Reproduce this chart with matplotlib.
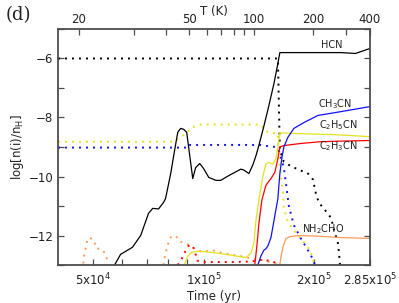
import numpy as np
import matplotlib
matplotlib.use("Agg")
import matplotlib.pyplot as plt

plt.rcParams['font.family'] = ['DejaVu Sans']
plt.rcParams['mathtext.default'] = 'regular'

# ---------------- data (time in yr, log abundance) ----------------
hcn_t = [5.71e4, 5.93e4, 6.39e4, 6.73e4, 7.07e4, 7.26e4, 7.53e4, 7.77e4, 7.87e4, 8.13e4,
         8.33e4, 8.5e4, 8.66e4, 8.82e4, 8.99e4, 9.1e4, 9.34e4, 9.51e4, 9.76e4, 1.0e5,
         1.033e5, 1.08e5, 1.114e5, 1.164e5, 1.264e5, 1.288e5, 1.33e5, 1.364e5, 1.39e5,
         1.416e5, 1.461e5, 1.508e5, 1.557e5, 1.596e5, 1.616e5, 2.0e5, 2.376e5, 2.6e5, 2.85e5]
hcn_y = [-13.0, -12.64, -12.4, -12.0, -11.25, -11.08, -11.1, -10.88, -10.75, -9.9,
         -9.12, -8.5, -8.37, -8.4, -8.5, -9.0, -10.07, -9.7, -9.56, -9.73,
         -10.03, -10.13, -10.13, -9.99, -9.75, -9.78, -9.9, -9.6, -9.3,
         -8.95, -8.3, -7.6, -6.85, -6.17, -5.8, -5.8, -5.8, -5.83, -5.66]

hcn_ice_t = [4.0e4, 1.596e5, 1.616e5, 1.657e5, 1.732e5, 1.845e5, 1.929e5, 1.99e5, 2.029e5,
             2.068e5, 2.12e5, 2.23e5, 2.272e5, 2.33e5, 2.345e5, 2.36e5]
hcn_ice_y = [-6.0, -6.0, -9.1, -9.5, -9.65, -9.8, -9.9, -10.1, -10.6,
             -10.9, -11.05, -11.4, -11.8, -12.27, -12.6, -13.0]

c2h5cn_t = [8.85e4, 9.05e4, 9.3e4, 9.64e4, 1.027e5, 1.093e5, 1.209e5, 1.304e5, 1.347e5, 1.372e5,
            1.39e5, 1.416e5, 1.452e5, 1.48e5, 1.508e5, 1.547e5, 1.576e5, 1.596e5, 1.616e5,
            1.845e5, 2.272e5, 2.85e5]
c2h5cn_y = [-13.0, -12.7, -12.56, -12.54, -12.56, -12.6, -12.68, -12.75, -12.6, -12.27,
            -11.5, -10.8, -10.0, -9.58, -9.52, -9.58, -9.4, -9.0, -8.52,
            -8.55, -8.58, -8.65]

c2h3cn_t = [1.38e5, 1.40e5, 1.416e5, 1.443e5, 1.48e5, 1.528e5, 1.566e5, 1.596e5, 1.616e5,
            1.657e5, 1.845e5, 2.093e5, 2.376e5, 2.85e5]
c2h3cn_y = [-13.0, -12.3, -11.6, -10.8, -10.3, -10.07, -9.86, -9.4, -9.0,
            -8.95, -8.88, -8.82, -8.8, -8.78]

ch3cn_t = [1.407e5, 1.434e5, 1.461e5, 1.48e5, 1.499e5, 1.528e5, 1.557e5, 1.596e5, 1.616e5,
           1.637e5, 1.657e5, 1.70e5, 1.765e5, 1.881e5, 2.054e5, 2.376e5, 2.645e5, 2.85e5]
ch3cn_y = [-13.0, -12.7, -12.5, -12.45, -12.35, -12.07, -11.5, -10.75, -9.9,
           -9.36, -9.0, -8.67, -8.37, -8.17, -7.93, -7.8, -7.7, -7.63]

nh2cho_t = [1.616e5, 1.627e5, 1.647e5, 1.678e5, 1.732e5, 1.845e5, 2.1e5, 2.376e5, 2.85e5]
nh2cho_y = [-13.0, -12.73, -12.4, -12.1, -12.03, -12.0, -12.03, -12.07, -12.1]

c2h5cn_ice_t = [4.0e4, 8.23e4, 8.39e4, 8.55e4, 8.94e4, 9.34e4, 9.82e4, 1.434e5, 1.48e5, 1.547e5,
                1.596e5, 1.606e5, 1.627e5, 1.647e5, 1.657e5, 1.70e5, 1.765e5, 1.845e5,
                1.929e5, 1.99e5, 2.003e5]
c2h5cn_ice_y = [-8.82, -8.82, -8.78, -8.7, -8.55, -8.33, -8.24, -8.24, -8.47, -8.52,
                -8.55, -9.36, -10.03, -10.47, -11.08, -11.55, -11.83, -12.1,
                -12.4, -12.75, -13.0]

ch3cn_ice_t = [4.0e4, 9.05e4, 9.1e4, 1.434e5, 1.499e5, 1.576e5, 1.606e5, 1.657e5, 1.678e5,
               1.71e5, 1.765e5, 1.845e5, 1.929e5, 1.99e5, 2.016e5]
ch3cn_ice_y = [-9.02, -9.02, -8.93, -8.93, -8.97, -9.0, -9.12, -9.7, -10.2,
               -11.0, -11.65, -12.1, -12.5, -12.8, -13.0]

nh2cho_ice1_t = [4.69e4, 4.72e4, 4.78e4, 4.81e4, 4.87e4, 4.97e4, 5.03e4, 5.09e4, 5.26e4, 5.39e4, 5.49e4]
nh2cho_ice1_y = [-12.95, -12.6, -12.35, -12.12, -12.08, -12.12, -12.2, -12.44, -12.46, -12.62, -12.95]

nh2cho_ice2_t = [7.77e4, 7.87e4, 7.97e4, 8.07e4, 8.23e4, 8.44e4, 8.6e4, 8.82e4, 9.05e4, 9.28e4,
                 9.64e4, 9.95e4, 1.059e5, 1.114e5, 1.187e5, 1.264e5, 1.321e5, 1.364e5,
                 1.434e5, 1.499e5, 1.557e5, 1.606e5]
nh2cho_ice2_y = [-13.0, -12.6, -12.35, -12.1, -12.0, -12.05, -12.2, -12.25, -12.3, -12.4,
                 -12.5, -12.55, -12.5, -12.58, -12.65, -12.7, -12.75, -12.8,
                 -12.82, -12.88, -12.92, -13.0]

c2h3cn_ice_t = [8.5e4, 8.75e4, 8.94e4, 9.1e4, 9.3e4, 9.45e4, 9.6e4, 1.0e5, 1.2e5, 1.35e5,
                1.45e5, 1.55e5, 1.6e5]
c2h3cn_ice_y = [-13.0, -12.75, -12.5, -12.35, -12.32, -12.5, -12.85, -12.9, -12.9, -12.88,
                -12.82, -12.88, -13.0]

xtick_vals = [5e4, 1e5, 2e5, 2.85e5]
xtick_labels = ['5x10$^4$', '1x10$^5$', '2x10$^5$', '2.85x10$^5$']
xminor_vals = [6e4, 7e4, 8e4, 9e4]
T_major = [20, 50, 100, 200, 400]
T_minor = [30, 40, 60, 70, 80, 90, 300]

def T_to_t(T):
    T = np.asarray(T, dtype=float)
    return 2.85e5 * np.sqrt((T - 10.0) / 390.0)

# ---------------- plot ----------------
fig = plt.figure(figsize=(3.99, 3.03), dpi=100)
ax = fig.add_axes([0.1454, 0.1254, 0.7819, 0.7789])

YEL = '#e2e21e'
ORG = '#ff9a55'
BLU = '#1010ff'
RED = '#ff0000'
dot = (0, (1, 2.6))
lw_s = 0.9
lw_d = 1.4

ax.plot(hcn_ice_t, hcn_ice_y, color='black', lw=lw_d, ls=dot)
ax.plot(c2h5cn_ice_t, c2h5cn_ice_y, color=YEL, lw=lw_d, ls=dot)
ax.plot(ch3cn_ice_t, ch3cn_ice_y, color=BLU, lw=lw_d, ls=dot)
ax.plot(nh2cho_ice1_t, nh2cho_ice1_y, color=ORG, lw=lw_d, ls=dot)
ax.plot(nh2cho_ice2_t, nh2cho_ice2_y, color=ORG, lw=lw_d, ls=dot)
ax.plot(c2h3cn_ice_t, c2h3cn_ice_y, color=RED, lw=lw_d, ls=dot)

ax.plot(hcn_t, hcn_y, color='black', lw=lw_s)
ax.plot(c2h5cn_t, c2h5cn_y, color=YEL, lw=lw_s)
ax.plot(c2h3cn_t, c2h3cn_y, color=RED, lw=lw_s)
ax.plot(ch3cn_t, ch3cn_y, color=BLU, lw=lw_s)
ax.plot(nh2cho_t, nh2cho_y, color=ORG, lw=lw_s)

ax.set_xscale('log')
ax.set_xlim(4.0e4, 2.85e5)
ax.set_ylim(-13, -5)

ax.set_xticks(xtick_vals)
ax.set_xticklabels(xtick_labels)
ax.set_xticks(xminor_vals, minor=True)
ax.set_xticklabels([], minor=True)
ax.set_yticks([-12, -10, -8, -6])
ax.set_yticklabels(['\u221212', '\u221210', '\u22128', '\u22126'])
ax.set_yticks([-13, -11, -9, -7, -5], minor=True)

spcol = '#4d4d4d'
for s in ax.spines.values():
    s.set_color(spcol)
    s.set_linewidth(1.3)
ax.tick_params(which='both', direction='in', length=4.5, width=0.9, color=spcol,
               labelsize=8.5, right=True, top=False, labelcolor='#222222')
ax.tick_params(axis='x', pad=5)

ax2 = ax.twiny()
ax2.set_xscale('log')
ax2.set_xlim(ax.get_xlim())
ax2.set_xticks(T_to_t(T_major))
ax2.set_xticklabels([str(v) for v in T_major])
ax2.set_xticks(T_to_t(T_minor), minor=True)
ax2.set_xticklabels([], minor=True)
ax2.tick_params(which='both', direction='in', length=4.5, width=0.9, color=spcol,
                labelsize=8.5, labelcolor='#222222', pad=2)
for s in ax2.spines.values():
    s.set_visible(False)

ax.set_xlabel('Time (yr)', fontsize=8.5, labelpad=1, color='#222222')
ax.set_ylabel('log[n(i)/n$_H$]', fontsize=8.5, labelpad=2, color='#222222')
ax2.set_xlabel('T (K)', fontsize=8.5, labelpad=-1, color='#222222')

lab = dict(fontsize=7, ha='center', va='center', color='#222222')
ax.text(2.24e5, -5.55, 'HCN', **lab)
ax.text(2.29e5, -7.53, 'CH$_3$CN', **lab)
ax.text(2.33e5, -8.25, 'C$_2$H$_5$CN', **lab)
ax.text(2.33e5, -8.97, 'C$_2$H$_3$CN', **lab)
ax.text(2.12e5, -11.77, 'NH$_2$CHO', **lab)

fig.text(0.045, 0.95, '(d)', fontsize=13, family='DejaVu Serif', ha='center', va='center',
         color='#222222')

fig.savefig('out.png', dpi=100)
